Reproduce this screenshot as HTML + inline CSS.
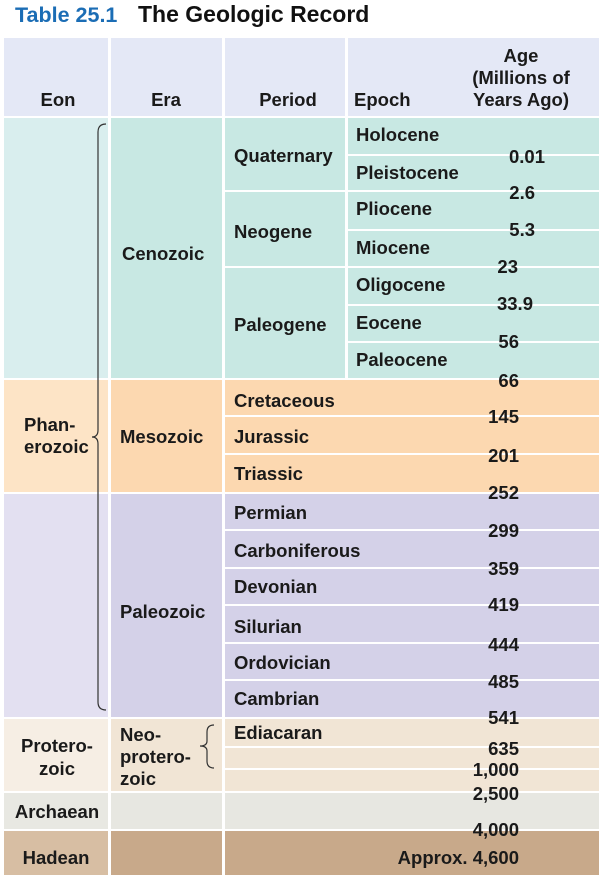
<!DOCTYPE html>
<html><head><meta charset="utf-8"><style>
body{margin:0;background:#fff;}
svg{display:block;font-family:"Liberation Sans",Arial,sans-serif;font-weight:bold;}
</style></head><body>
<svg id="s" width="603" height="877" viewBox="0 0 603 877" xmlns="http://www.w3.org/2000/svg">
<text x="15" y="22" font-size="21.5" fill="#1b6db5">Table 25.1</text>
<text x="138" y="22" font-size="23" fill="#111">The Geologic Record</text>
<g id="cells"></g>
<g id="labels" font-size="18.5" fill="#1a1a1a"></g>
<path d="M106,124 Q98,124 98,132 L98,430 Q98,437 92,437 Q98,437 98,444 L98,702 Q98,710 106,710" fill="none" stroke="#333" stroke-width="1.2"/>
<path d="M214,725 Q207,725 207,732 L207,741 Q207,746 200,746 Q207,746 207,751 L207,761 Q207,768 214,768" fill="none" stroke="#333" stroke-width="1.2"/>
</svg>
<script>
const rowBounds=[[118,154],[156,190],[192,229],[231,266],[268,304],[306,341],[343,378],[380,415],[417,453],[455,492],[494,529],[531,567],[569,604],[606,642],[644,679],[681,717],[719,746],[748,768],[770,791],[793,829],[831,875]];
const epochs=["Holocene","Pleistocene","Pliocene","Miocene","Oligocene","Eocene","Paleocene"];
const periods=["Quaternary","Neogene","Paleogene","Cretaceous","Jurassic","Triassic","Permian","Carboniferous","Devonian","Silurian","Ordovician","Cambrian","Ediacaran"];
const ages=["0.01","2.6","5.3","23","33.9","56","66","145","201","252","299","359","419","444","485","541","635","1,000","2,500","4,000","Approx. 4,600"];
const ageY=[163,199,236,273,310,348,387,423,462,499,537,575,611,651,688,724,755,776,800,836,864];
const ageRight=[545,535,535,518,533,519,519,519,519,519,519,519,519,519,519,519,519,519,519,519,519];
const S=document.getElementById('s'),C=document.getElementById('cells'),L=document.getElementById('labels');
const NS='http://www.w3.org/2000/svg';
function rect(x,y,w,h,f,n){const r=document.createElementNS(NS,'rect');r.setAttribute('x',x);r.setAttribute('y',y);r.setAttribute('width',w);r.setAttribute('height',h);r.setAttribute('fill',f);


C.appendChild(r);}
function txt(x,y,s,n,anchor){const t=document.createElementNS(NS,'text');t.setAttribute('x',x);t.setAttribute('y',y);if(anchor)t.setAttribute('text-anchor',anchor);t.textContent=s;


L.appendChild(t);}
const hd='#e4e8f6';
rect(4,38,104,78,hd,'header-eon');rect(111,38,111,78,hd,'header-era');rect(225,38,120,78,hd,'header-period');rect(348,38,251,78,hd,'header-epoch-age');
rect(4,118,104,260,'#d9eeee','eon-cell-cenozoic');rect(4,380,104,112,'#fde4c6','eon-cell-mesozoic');rect(4,494,104,223,'#e3e0f1','eon-cell-paleozoic');
rect(4,719,104,72,'#f6eee4','eon-cell-proterozoic');rect(4,793,104,36,'#e8e8e2','eon-cell-archaean');rect(4,831,104,44,'#d7bea3','eon-cell-hadean');
rect(111,118,111,260,'#c8e8e3','era-cenozoic');rect(111,380,111,112,'#fcd8b0','era-mesozoic');rect(111,494,111,223,'#d4d1e8','era-paleozoic');
rect(111,719,111,72,'#f1e5d5','era-neoproterozoic');rect(111,793,111,36,'#e7e7e1','era-archaean');rect(111,831,111,44,'#c8a98a','era-hadean');
rect(225,118,120,72,'#c8e8e3','period-quaternary');rect(225,192,120,74,'#c8e8e3','period-neogene');rect(225,268,120,110,'#c8e8e3','period-paleogene');
rowBounds.forEach((b,i)=>{
  let col,x=225,w=374;
  if(i<7){col='#c8e8e3';x=348;w=251;}
  else if(i<10)col='#fcd8b0';else if(i<16)col='#d4d1e8';else if(i<19)col='#f1e5d5';else if(i<20)col='#e7e7e1';else col='#c8a98a';
  rect(x,b[0],w,b[1]-b[0],col,'row-'+i);
});
txt(58,106,'Eon','header-eon-label','middle');txt(166,106,'Era','header-era-label','middle');txt(288,106,'Period','header-period-label','middle');
txt(354,106,'Epoch','header-epoch-label');txt(521,62,'Age','header-age-label','middle');txt(521,84,'(Millions of','header-age-label-2','middle');txt(521,106,'Years Ago)','header-age-label-3','middle');
txt(24,431,'Phan-','eon-phanerozoic');txt(24,453,'erozoic','eon-phanerozoic-2');
txt(57,752,'Protero-','eon-proterozoic','middle');txt(57,775,'zoic','eon-proterozoic-2','middle');
txt(57,818,'Archaean','eon-archaean','middle');txt(56,864,'Hadean','eon-hadean','middle');
txt(122,260,'Cenozoic','era-cenozoic-label');txt(120,443,'Mesozoic','era-mesozoic-label');txt(120,618,'Paleozoic','era-paleozoic-label');
txt(120,741,'Neo-','era-neoproterozoic-label');txt(120,763,'protero-','era-neoproterozoic-label-2');txt(120,785,'zoic','era-neoproterozoic-label-3');
const perY=[162,238,331,407,443,480,519,557,593,633,669,705,739];
periods.forEach((p,i)=>{txt(234,perY[i],p,'period-'+p.toLowerCase());});
epochs.forEach((e,i)=>{const b=rowBounds[i];txt(356,b[0]+23,e,'epoch-'+e.toLowerCase());});
ages.forEach((a,i)=>{txt(ageRight[i],ageY[i],a,'age-'+i,'end');});
</script>
</body></html>
